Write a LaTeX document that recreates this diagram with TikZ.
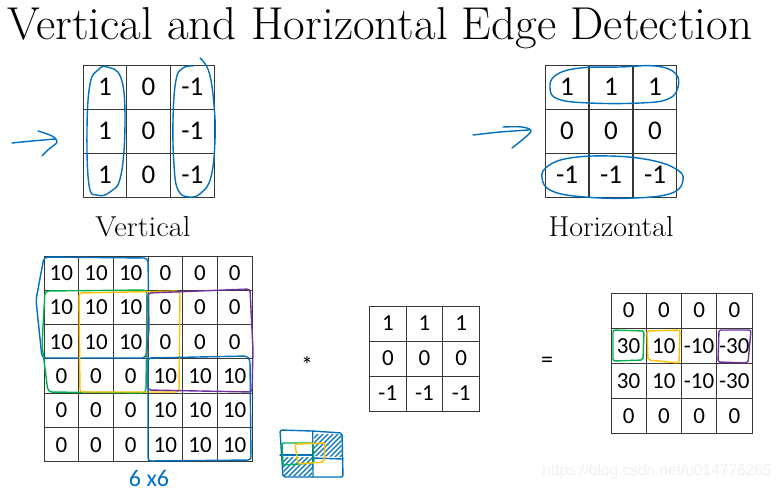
\documentclass[tikz,border=0pt]{standalone}
\usepackage{fontspec}
\usepackage{graphicx}
\newfontfamily\cellfont{Carlito}
\newfontfamily\wmfont{Liberation Sans}
\definecolor{penblue}{RGB}{0,112,192}
\definecolor{pengreen}{RGB}{0,176,80}
\definecolor{penyellow}{RGB}{255,192,0}
\definecolor{penpurple}{RGB}{112,48,160}
\begin{document}
\begin{tikzpicture}[x=1pt,y=-1pt,
  gridline/.style={draw=black!78, line width=1pt, inner sep=0pt},
  cellbig/.style={gridline, minimum width=43.7pt, minimum height=44pt, font=\cellfont\fontsize{27}{27}\selectfont},
  cellsix/.style={gridline, minimum width=34.67pt, minimum height=34.33pt, font=\cellfont\fontsize{23}{23}\selectfont},
  cellmid/.style={gridline, minimum width=36.67pt, minimum height=35pt, font=\cellfont\fontsize{23}{23}\selectfont},
  cellout/.style={gridline, minimum width=35.25pt, minimum height=35.1pt, font=\cellfont\fontsize{23}{23}\selectfont},
  pen/.style={line width=1.4pt, line cap=round, line join=round},
  hatch/.style={line width=1.2pt, line cap=round, penblue},
  symb/.style={font=\cellfont\fontsize{24}{24}\selectfont, anchor=base, inner sep=0pt},
]
\useasboundingbox[fill=white] (0,0) rectangle (784,491);

% title
\node[anchor=base west, inner sep=0pt] (title) at (7,39)
  {\resizebox{745pt}{32pt}{\fontsize{40}{40}\selectfont Vertical and Horizontal Edge Detection}};

% vertical kernel
\foreach \vals [count=\r from 0] in {{1,0,-1},{1,0,-1},{1,0,-1}} {
  \foreach \v [count=\c from 0] in \vals {
    \node[cellbig] (V\r\c) at ({83+43.7*(\c+0.5)},{65+44*(\r+0.5)}) {\v};
  }
}
% horizontal kernel
\foreach \vals [count=\r from 0] in {{1,1,1},{0,0,0},{-1,-1,-1}} {
  \foreach \v [count=\c from 0] in \vals {
    \node[cellbig] (H\r\c) at ({545+44*(\c+0.5)},{65+44*(\r+0.5)}) {\v};
  }
}
\node[anchor=base, inner sep=0pt] (vlab) at (143,236)
  {\resizebox{95pt}{20pt}{\fontsize{28}{28}\selectfont Vertical}};
\node[anchor=base, inner sep=0pt] (hlab) at (611,236)
  {\resizebox{125pt}{20pt}{\fontsize{28}{28}\selectfont Horizontal}};

% 6x6 input
\foreach \vals [count=\r from 0] in {{10,10,10,0,0,0},{10,10,10,0,0,0},{10,10,10,0,0,0},{0,0,0,10,10,10},{0,0,0,10,10,10},{0,0,0,10,10,10}} {
  \foreach \v [count=\c from 0] in \vals {
    \node[cellsix] (I\r\c) at ({44+34.67*(\c+0.5)},{256+34.33*(\r+0.5)}) {\v};
  }
}
% middle kernel
\foreach \vals [count=\r from 0] in {{1,1,1},{0,0,0},{-1,-1,-1}} {
  \foreach \v [count=\c from 0] in \vals {
    \node[cellmid] (K\r\c) at ({369.5+36.67*(\c+0.5)},{306+35*(\r+0.5)}) {\v};
  }
}
% output
\foreach \vals [count=\r from 0] in {{0,0,0,0},{30,10,-10,-30},{30,10,-10,-30},{0,0,0,0}} {
  \foreach \v [count=\c from 0] in \vals {
    \node[cellout] (O\r\c) at ({611+35.25*(\c+0.5)},{293+35.1*(\r+0.5)}) {\v};
  }
}
\node[symb] (star) at (307,373) {*};
\node[symb] (eq) at (547,367) {=};

% pen marks: vertical kernel
\draw[pen, penblue] plot[smooth cycle, tension=0.7] coordinates {(107,67) (121,78) (125,120) (121,175) (110,192) (97,195) (89,185) (87,130) (90,84) (98,70)};
\draw[pen, penblue] plot[smooth, tension=0.7] coordinates {(200,58) (209,72) (214,105) (215,140) (211,177) (201,193) (189,197) (178,190) (174,165) (173,120) (176,80) (183,68) (193,66)};
\draw[pen, penblue] plot[smooth] coordinates {(12,143) (32,141) (55,139)};
\draw[pen, penblue] plot[smooth, tension=0.6] coordinates {(38,131) (52,136) (57,142) (49,149) (42,156)};

% pen marks: horizontal kernel
\draw[pen, penblue] plot[smooth cycle, tension=0.7] coordinates {(550,88) (556,75) (580,68) (620,67) (655,66) (675,73) (678,87) (668,99) (640,103) (590,103) (558,99)};
\draw[pen, penblue] plot[smooth cycle, tension=0.7] coordinates {(542,178) (548,166) (570,158) (610,156) (650,160) (676,169) (683,180) (672,193) (635,198) (585,197) (552,191)};
\draw[pen, penblue] plot[smooth] coordinates {(473,135) (500,132) (529,130)};
\draw[pen, penblue] plot[smooth, tension=0.6] coordinates {(503,127) (522,127) (531,131) (522,140) (512,148)};

% pen marks: 6x6
\draw[pen, penblue, rounded corners=4pt] (44,257) -- (148,258) -- (149,330) -- (146,358) -- (42,358) -- (36,300) -- cycle;
\draw[pen, pengreen, rounded corners=4pt] (45,291) -- (147,290) -- (146,393) -- (48,392) -- (42,345) -- cycle;
\draw[pen, penyellow, rounded corners=3pt] (79,293) -- (180,291) -- (179,392) -- (80,392) -- cycle;
\draw[pen, penpurple, rounded corners=3pt] (148,293) -- (250,289) -- (253,350) -- (252,392) -- (148,390) -- cycle;
\draw[pen, penblue, rounded corners=3pt] (148,358) -- (247,356) -- (250,360) -- (251,460) -- (148,461) -- cycle;
\node[penblue, font=\cellfont\fontsize{24}{24}\selectfont, inner sep=0pt] (six) at (149,478) {6 x6};

% pen marks: output
\draw[pen, pengreen, rounded corners=2pt] (613,330) -- (644,331) -- (643,360) -- (613,361) -- cycle;
\draw[pen, penyellow, rounded corners=2pt] (647,331) -- (680,330) -- (679,363) -- (648,360) -- cycle;
\draw[pen, penpurple, rounded corners=2pt] (719,330) -- (751,330) -- (748,363) -- (718,362) -- cycle;

% small sketch
\begin{scope}
  \clip (314,434) -- (341,434) -- (342,457) -- (314,456) -- cycle;
  \foreach \x in {290,295,...,345} { \draw[hatch] (\x,462) -- (\x+30,432); }
\end{scope}
\begin{scope}
  \clip (282,457) -- (312,457) -- (312,476) -- (284,476) -- cycle;
  \foreach \x in {260,265,...,315} { \draw[hatch] (\x,480) -- (\x+25,455); }
\end{scope}
\draw[pen, penblue, rounded corners=2pt] (280,430) -- (312,431) -- (342,433) -- (343,477) -- (283,477) -- cycle;
\draw[pen, penblue] (312.7,431) -- (313,477);
\draw[pen, penblue] (280,455) -- (313,455);
\draw[pen, penblue] (313,458) -- (343,459);
\draw[pen, pengreen, rounded corners=2pt] (282,443) -- (313,443) -- (314,463) -- (283,465) -- cycle;
\draw[pen, penyellow, rounded corners=2pt] (295,444) -- (325,443) -- (324,462) -- (298,464) -- cycle;

% watermark
\node[text=black!6, font=\wmfont\fontsize{15.5}{15.5}\selectfont, inner sep=0pt] (wm) at (657,471.5) {https://blog.csdn.net/u014776265};
\end{tikzpicture}
\end{document}
